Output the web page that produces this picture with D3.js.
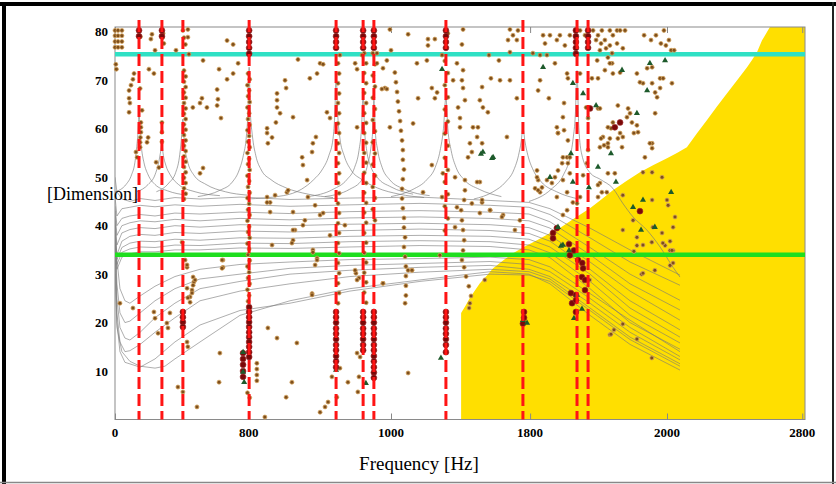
<!DOCTYPE html>
<html><head><meta charset="utf-8">
<script src="https://cdn.jsdelivr.net/npm/d3@7/dist/d3.min.js"></script>
<style>
html,body{margin:0;padding:0;background:#fff;}
svg{display:block;}
</style></head>
<body>
<svg id="chart" width="836" height="484"></svg>
<script>
// ---------- DATA ----------
const xTickValues = [0, 485, 1000, 1504, 2000, 2490];
const xTickLabels = ["0", "800", "1000", "1800", "2000", "2800"];
const yTickValues = [10, 20, 30, 40, 50, 60, 70, 80];
const xAxisTitle = "Frequency [Hz]";
const yAxisTitle = "[Dimension]";
const dashedLineX = [87, 170, 246, 486, 801, 899, 938, 1199, 1478, 1674, 1714];
const cyanLevel = 75.4;
const greenLevel = 34.0;
const yellowRegion = [[1254,0],[1254,22],[1270,23.5],[1286,25.1],[1304,26.6],[1322,28.1],[1346,29.6],[1370,31.2],[1406,32.8],[1442,34.3],[1485,35.7],[1529,37],[1570,38.3],[1612,39.5],[1666,41.6],[1721,43.6],[1762,45.4],[1804,47.3],[1853,49.2],[1902,51],[1951,52.5],[2000,53.9],[2036,55],[2072,56.2],[2108,59],[2145,61.8],[2181,64.6],[2217,67.3],[2254,70],[2290,72.7],[2308,74.2],[2326,75.8],[2344,78.2],[2373,81],[2500,81],[2500,0]];

// dispersion curves (upper bundle)
const curveU1 = [[0,50],[7,47],[25,45.5],[54,45],[91,45.6],[145,45.2],[217,45.8],[308,45.5],[453,45.9],[634,45.4],[851,45.7],[1105,45.9],[1359,45.2],[1500,44.8],[1576,43.5],[1721,39.5],[1866,35],[2047,29.8]];
const curveU2 = [[0,46],[7,42],[25,43.5],[54,43.8],[91,44.2],[145,43.9],[217,44.3],[308,44],[453,44.4],[634,44],[851,44.3],[1105,44.6],[1359,44.2],[1500,43.8],[1576,42.3],[1721,37.5],[1866,32.5],[2047,27.7]];
const curveU3 = [[0,44],[7,40],[25,41.5],[54,42],[91,42.3],[145,42],[217,42.6],[308,42.4],[453,42.8],[634,42.5],[851,42.9],[1105,43.1],[1359,42.8],[1500,42.4],[1576,40.8],[1721,35.5],[1866,30],[2047,24.6]];
const curveU4 = [[0,43],[7,38],[25,40],[54,40.6],[91,41],[145,40.8],[217,41.3],[308,41],[453,41.5],[634,41.2],[851,41.6],[1105,41.8],[1359,41.5],[1500,41],[1576,39.5],[1721,34],[1866,28],[2047,22.6]];
const curveU5 = [[0,41],[7,36],[25,38.5],[54,39.2],[91,39.6],[145,39.4],[217,40],[308,39.7],[453,40.2],[634,40],[851,40.3],[1105,40.5],[1359,40.2],[1500,39.6],[1576,38],[1721,32.5],[1866,26.5],[2047,20.5]];
const curveU6 = [[0,39],[7,34],[25,36.8],[54,37.8],[91,38.2],[145,38],[217,38.6],[308,38.4],[453,38.9],[634,38.7],[851,39],[1105,39.3],[1359,39],[1500,38.4],[1576,36.8],[1721,31],[1866,24.5],[2047,18.5]];
const curveU7 = [[0,37],[7,33],[25,35.5],[54,36.4],[91,36.8],[145,36.7],[217,37.2],[308,37],[453,37.5],[634,37.4],[851,37.8],[1105,38],[1359,37.8],[1500,37.2],[1576,35.6],[1721,30],[1866,23],[2047,17]];
const curveU8 = [[0,36],[7,32],[25,34.5],[54,35.2],[91,35.6],[145,35.5],[217,36],[308,35.9],[453,36.4],[634,36.3],[851,36.7],[1105,36.9],[1359,36.7],[1500,36],[1576,34.4],[1721,28.5],[1866,21.5],[2047,15.8]];
const curveU9 = [[0,35],[7,31],[25,33.5],[54,34.2],[91,34.6],[145,34.6],[217,35],[308,35],[453,35.4],[634,35.3],[851,35.6],[1105,35.9],[1359,35.7],[1500,35],[1576,33.4],[1721,27],[1866,20],[2047,14.5]];
// dispersion curves (lower, dipping at left)
const curveL6 = [[0,42],[7,33],[18,27],[36,24.5],[54,24],[91,25.5],[145,27.5],[217,29.5],[308,31],[453,32],[634,32.5],[851,33],[1105,33.2],[1359,33.5],[1500,33],[1576,31.5],[1721,26],[1866,20.5],[2047,14]];
const curveL5 = [[0,40],[7,28],[18,22],[36,20],[54,20.3],[91,22],[145,24.5],[217,27],[308,29],[453,30],[634,31.2],[851,31.8],[1105,32.2],[1359,32.6],[1500,32],[1576,30.5],[1721,25],[1866,19],[2047,13]];
const curveL4 = [[0,38],[7,25],[18,19],[36,16.8],[54,16.4],[91,18],[145,21],[217,24],[308,27],[453,28.5],[634,30],[851,30.8],[1105,31.4],[1359,31.8],[1500,31],[1576,29.5],[1721,24],[1866,18],[2047,12.3]];
const curveL3 = [[0,36],[7,22],[18,16],[36,14],[54,14.2],[91,15.5],[145,18],[217,21],[308,24.5],[453,26.5],[634,28],[851,29.5],[1105,30.4],[1359,31],[1500,30.5],[1576,29],[1721,23],[1866,17],[2047,11.5]];
const curveL2 = [[0,34],[7,20],[18,14],[36,11.8],[91,10.8],[145,12.5],[217,16],[308,19.5],[453,22.5],[634,24],[851,26.5],[1105,28.5],[1359,30],[1500,29.8],[1576,28.5],[1721,22.5],[1866,16.5],[2047,11]];
const curveL1 = [[0,30],[7,19],[25,14],[54,12],[91,11],[145,10.6],[181,11],[217,12.5],[308,16],[453,21.5],[634,24.5],[851,27],[1105,28.8],[1359,30.5],[1500,30],[1576,28],[1721,21.5],[1866,15.5],[2047,10.2]];

// resonance peaks
const peak1 = [[0,47],[40,48.5],[60,50.5],[72,53],[80,57],[85,61],[87,64.4],[90,60],[96,56],[105,53],[120,50.5],[145,48.5],[190,47.2],[260,46.3]];
const peak2 = [[80,47],[120,48.5],[145,50.5],[158,53],[166,55.5],[170,57],[174,55],[184,52.5],[200,50.5],[230,48.5],[290,47],[380,46.2]];
const peak3 = [[150,47],[195,48.8],[220,51],[233,54],[240,57.5],[246,62],[251,57],[262,53.5],[285,50.5],[330,48.5],[400,47],[480,46.3]];
const peak4 = [[300,46],[380,47.3],[425,49],[450,51.5],[465,54.5],[476,58.5],[482,64],[486,72.7],[490,64],[498,58.5],[510,54.5],[530,51.5],[565,49.5],[620,47.8],[700,46.5],[790,45.8]];
const peak5 = [[475,45.5],[610,46.2],[675,47.5],[720,49.5],[750,51.5],[775,54.5],[790,58],[797,64],[801,71.6],[806,64],[815,58],[830,54.5],[855,51.5],[895,49.5],[950,47.8],[1030,46.5],[1120,45.8]];
const peak6 = [[700,46],[790,47.5],[840,49.5],[868,52],[884,55.5],[893,60],[899,67],[904,60],[912,55.5],[925,52.5],[950,50],[1000,48],[1080,46.5]];
const peak7 = [[760,46],[850,47.5],[895,49.5],[915,52.5],[927,56],[934,60],[938,66],[943,59.5],[952,55.5],[968,52],[995,49.5],[1050,47.5],[1140,46.2]];
const peak8 = [[1000,46],[1080,47.5],[1130,49.5],[1160,52],[1178,55.5],[1190,60],[1199,66.5],[1206,60],[1218,55.5],[1236,52],[1265,49.5],[1320,47.5],[1400,46]];
const peak9 = [[1300,45.5],[1370,47],[1415,49],[1445,51.5],[1462,54.5],[1472,57.5],[1478,60.3],[1485,57.5],[1496,54.5],[1515,51.5],[1545,49],[1600,47],[1680,45.5]];
const peak10 = [[1500,45],[1580,47.5],[1625,50.5],[1648,54],[1660,58],[1668,63],[1674,72],[1680,61],[1690,55],[1720,51],[1760,49.5],[1804,47.7],[1840,44.6],[1877,41.8],[1927,39.1],[1975,35.6],[2022,31.4],[2047,29.4]];

// brown diamond markers
const brownPoints = [
[0,80.3],[11,80.3],[25,80.3],[0,79.2],[11,79.2],[25,79.2],[0,78],[11,78],[25,78],[0,76.8],[11,76.8],[25,76.8],
[3,73.3],[5,72.3],[134,79.5],[130,78.5],[145,76.2],[174,79.7],[177,77.6],[221,76.2],[264,80.5],[264,78.9],[268,75.4],[319,74.1],[406,78.2],[428,77.4],
[92,79],[172,78.8],[250,78.8],[255,77.4],[246,80.3],
[69,71.4],[65,70.2],[58,69],[51,67.9],[51,66.3],[54,65.3],[51,63.4],[91,68.3],[98,63.8],
[94,61.3],[94,60.3],[94,59.3],[92,58.2],[91,57.2],[91,56.2],[76,55.2],[80,54.1],
[123,72.3],[141,71.4],[120,58.2],[116,57.2],[149,53.1],[159,52],[170,61.3],[170,59.3],[170,57.3],
[250,72],[256,70.8],[250,69.7],[256,68.6],[250,67.5],[256,66.4],[250,65.3],[256,64.2],[250,63.1],[256,62],[250,60.9],[256,59.8],[250,58.7],[256,57.6],[250,56.5],[256,55.4],[250,54.3],[256,53.2],[250,52.1],[256,51],[250,49.9],[256,48.8],[250,47.7],[256,46.6],[250,45.5],
[282,64.4],[308,65.3],[315,66.3],[333,64.4],[370,64.8],[373,66.1],[384,62.2],[370,68.1],[377,72.3],[406,70.2],[428,71.4],[446,73.5],[308,50.8],[319,51.9],
[482,71.4],[488,70.2],[480,69],[486,67.9],[482,66.7],[488,65.5],[480,64.4],[486,63.2],[482,62],[488,60.8],[480,59.7],[486,58.5],[482,57.3],[488,56.2],[480,55],[486,53.8],[482,52.7],[488,51.5],[480,50.3],[486,49.2],[482,48],[488,46.8],[480,45.7],[486,44.5],[482,43.3],[488,42.2],[480,41],[486,39.8],[482,38.7],[488,37.5],[480,36.3],[486,35.2],[482,34],[488,32.8],[480,31.6],[486,30.4],[482,29.2],[488,28],[480,26.8],[486,25.6],[482,24.4],
[551,60.1],[551,59.1],[569,58.2],[554,57],[587,67.3],[587,65.9],[587,64.4],[583,61.3],[551,45.9],[562,44.8],
[18,24],[65,23],[141,22.2],[145,20.9],[156,17.8],[188,19.9],[192,18.9],[199,22],[254,32.9],[261,31.4],[283,29.4],[286,28.4],[279,26.7],[272,25.3],[272,24.2],[261,16],[264,15],[228,6.7],[246,5.7],[297,2.6],
[480,5.5],[488,4.5],[514,11.6],[514,10.4],[514,9.2],[514,8],[543,0.5],[380,13.7],[377,7.7],[554,18.9],[587,16.8],[391,32.9],[391,31.4],
[659,15.8],[641,7.7],[620,4.6],[743,1.5],[761,2.6],[772,3.6],[786,8.8],[804,4.6],[815,10.6],[880,5.7],[884,8.8],[844,7.7],[877,13.7],[888,12.9],[1062,9.6],
[1014,71.6],[1018,69.6],[1022,67.6],[1025,65.6],[1029,63.6],[1033,61.6],[1036,59.6],[1040,57.6],[1043,55.6],[1043,53.6],[1047,51.6],[1043,49.6],[1040,47.6],[1040,45.6],[1043,43.6],[1047,41.6],[1047,39.6],[1051,37.6],[1047,35.6],[1051,33.6],[1054,31.6],[1054,29.6],[1054,27.6],[1054,25.6],[1051,24],
[1268,49.4],[1268,47.3],[1265,45.3],[1254,43.2],[1257,41.1],[1261,39.1],[1265,37],[1261,34.9],[1257,32.9],[1265,31.4],[1272,29.5],[1282,27.5],[1290,25.5],[1286,24],[1283,23],
[714,26],[717,35],[732,33.3],[873,30.2],[884,29.2],[971,28.1],[1076,30.8],[1177,33.9],
[903,75.6],[910,73.5],[903,71.5],[910,69.4],[903,67.4],[910,65.3],[903,63.2],[910,61.2],[903,59.1],[910,57.1],[903,55],[910,53],[903,50.9],[910,48.8],[903,46.8],[910,44.7],[903,42.7],[910,40.6],[903,38.5],[910,36.5],[903,34.4],[910,32.4],[903,30.3],[910,28.3],[903,26.2],[910,24.1],
[934,75.6],[942,73.3],[934,71],[942,68.7],[934,66.4],[942,64.1],[934,61.8],[942,59.5],[934,57.2],[942,54.9],[934,52.6],[942,50.3],[934,48],[942,45.7],[934,43.4],[942,41.1],
[1195,74],[1206,71.5],[1195,69],[1206,66.5],[1195,64],[1206,61.5],[1195,59],[1206,56.5],[1195,54],[1206,51.5],[1195,49],[1206,46.5],[1195,44],[1206,41.5],[1195,39],
[808,73.5],[812,71.4],[808,69.4],[812,67.3],[808,65.3],[812,63.2],[808,61.1],[812,59.1],[808,57],[812,55],[808,52.9],[812,50.8],[808,48.8],[812,46.7],[808,44.6],[812,42.6],[808,40.5],[812,38.5],[808,36.4],[812,34.3],[808,32.3],[812,30.2],[808,28.1],[812,26.1],[808,24],
[1793,17.5],[1808,18.5],[1720,28.8],[1797,17.6],[1840,19.7],[1891,16.6],[1945,12.7],[1908,30],[1956,30.8],[1880,34.7],[2011,31.8],[2011,34.9],[2022,34.9],[1945,36.6],[1891,35.9],[1993,35.9],[2011,36.8],
[1420,58.3],[1605,59.1],[1623,54.1],[1638,54.1],[1648,54.1],[1620,52.9],[1641,52.9],[1605,51.4],[1594,50],[1583,48.8],[1623,49.4],[1648,50.8],[1710,52.9],[1714,55.6],[1768,58.3],[1772,56.6],[1786,57],[1837,56.2],[1840,58.3],[1830,59.1],[1880,59.1],[1920,54.1],[1946,57],[1946,56],[1946,51],[1982,50],[1913,51],[1786,50.8],[1757,48.8],[1764,46.9],[1782,46.9],[1811,50.8],[1840,46.3],[1840,39.1],[1877,41.1],[1891,37.6],[1913,36],[1913,30.2],[2000,45.3],[2004,44.2],[2029,41.8],[2022,39.7],[1982,38.5],[1985,36.4],[2018,34.9],[2022,32.3],[1949,39.7],[1946,45.3],[1533,49.4],[1547,47.9],[1540,46.9],[1522,47.7],[1449,39.1],[1467,41.1],[1406,42.2],[1322,49],[1330,44.8],[1359,43.2],[1623,42.2],[1638,43.2],[1659,44.8],[1638,46.9],[1601,45.9],[1685,45.9],[1750,45.9],[1696,50.4],[1674,44.6],[1750,48.4],
[1612,79.3],[1630,77.2],[1648,79.3],[1685,80.3],[1703,79.3],[1732,80.3],[1750,79.3],[1764,80.3],[1775,78.3],[1793,80.3],[1804,79.3],[1819,80.3],[1830,80.3],[1848,80.3],[1779,76.6],[1761,77.6],[1743,78.3],[1793,77.2],[1819,77.6],[1840,76.6],[1757,76.2],[1786,74.7],[1917,79.3],[1960,79.3],[1942,78.3],[1978,77.6],[1996,77.2],[2007,78.3],[1989,80.3],[2015,76.2],[2026,76.2],[1801,75.6],[1801,73.5],[1747,74.1],[1728,70.4],[1750,70.4],[1685,71.4],[1638,71.4],[1641,70.4],[1891,71.4],[1928,72.5],[1946,72.7],[1913,69.4],[1902,69.6],[1946,69.4],[1975,70.4],[1986,70.4],[2018,69.4],[1975,68.4],[1957,67.5],[1964,66.5],[1830,71.6],[1804,71.4],[1793,73.5],[1775,72.1],[1627,65.3],[1623,62.4],[1627,59.7],[1641,57.6],[1750,64.2],[1757,64.2],[1822,64.8],[1859,64.2],[1866,63.2],[1855,62.4],[1873,61.3],[1891,60.7],[1957,63.2],[1804,61.3],[1797,60.1],[1786,60.3],[1761,58],[1793,58],[1822,58],[1895,59.3],[1938,57],[1757,56.2],[1786,56.2],[1714,62.2],[1707,64.4],
[996,80.5],[1062,79.5],[1134,78.5],[1159,78.5],[1134,77.2],[1206,79.7],[1261,80.5],[1257,77.4],[1431,80.5],[1424,78.3],[1442,79.3],[1460,80.3],[1456,78.3],[1551,79.3],[1558,77.6],[1576,79.3],[1601,78.3],
[663,74.3],[815,75.2],[895,75.2],[949,75.6],[985,74.1],[1000,76.2],[1094,73.5],[1130,74.1],[1185,75.2],[1239,73.5],[1261,72.1],[1355,75.2],[1391,74.1],[1431,75.8],[1514,75.6],[1540,75.2],[1565,75.2],[1594,73.5],
[743,73.5],[706,70.4],[732,71.4],[754,73.3],[616,70],[620,68.4],[870,73.5],[877,72.3],[949,73.5],[971,72.5],[978,68.4],[967,68.2],[985,68.2],[1098,66.3],[1159,66.3],[1167,67.5],[1148,68.4],[1225,70],[1257,70],[1261,68.4],[1268,65.9],[1243,64.4],[1250,62.2],[1322,65.9],[1333,64.4],[1351,63.4],[1330,68.6],[1362,70.4],[1395,70],[1431,70],[1456,66.3],[1533,67.9],[1540,70],[1572,66.3],[1601,60.3],[1605,59.1],[1315,60.3],[1312,58.3],[1330,57],[1297,60.3],[1286,57],[1293,55.2],[1279,54.1],
[645,62.4],[598,63.2],[768,63.4],[779,62.2],[877,60.3],[996,60.3],[1080,61.1],[1250,60.3],
[678,54.1],[681,52.5],[714,55.2],[717,57],[728,58.3],[623,46.9],
[1148,52.5],[1188,50.8],[1232,50],[1312,49],[1322,42.6],[1359,43.2],[1402,41.8],[1533,47.3],[1529,50],[1565,49.4],[1529,51.4],
[696,49.4],[699,45.9],[725,44.2],[743,42.2],[754,42.6],[688,41.1],[681,40.1],[652,39.1],[645,37],[717,34.5],[732,32.9],[725,31.9],[714,25.7],[779,38],[833,40.1],[877,28.8],[870,30.8],[971,28.1],[1062,30.8],[1076,30.8],[1116,46.9],[1185,45.9],[1232,39.7],[1239,43.8],[1293,44.6],[1330,45.3],[1340,28.8],
[551,44.8],[562,42.8],[580,46.3],[627,47.3],[645,42.8],[645,39.1],[641,36.4],[569,36],[388,32.9],[388,31.2],[261,31.9],[290,28.8],[283,27.7],[261,27.1],[279,26.1],[264,25.1],[243,36.6]
];

// dark red circles
const redPoints = [
[87,80.3],[87,79.1],[170,80.3],[170,79.1],
[486,80.3],[486,79.1],[486,77.9],[486,76.7],[486,75.5],
[801,80.3],[801,79.1],[801,77.9],[801,76.7],
[899,80.3],[899,79.1],[899,77.9],[899,76.7],
[938,80.3],[938,79.1],[938,77.9],[938,76.7],
[1199,80.3],[1199,79.1],[1199,77.9],[1199,76.7],
[1670,80.3],[1670,79.1],[1670,77.9],[1670,76.7],[1670,75.5],
[1714,80.3],[1714,79.1],[1714,77.9],[1714,76.7],
[246,22.2],[246,21.1],[246,20.1],[246,19.1],
[486,23.2],[486,22.2],[486,21.1],[486,20.1],[486,19.1],[486,18],[486,17],[486,16],[486,15],[486,13.9],[486,12.9],
[464,13.7],[464,12.5],[464,11.3],[464,10],[464,8.8],
[801,22.2],[801,21.1],[801,20],[801,18.8],[801,17.7],[801,16.6],[801,15.4],[801,14.3],[801,13.1],[801,12],[801,10.8],
[899,22.2],[899,21.1],[899,20],[899,18.8],[899,17.7],[899,16.6],[899,15.4],[899,14.3],
[938,22.2],[938,21.1],[938,20],[938,18.8],[938,17.7],[938,16.6],[938,15.4],[938,14.3],[938,13.1],[938,12],[938,10.8],[938,9.7],[938,8.6],
[1199,22.2],[1199,21.1],[1199,20],[1199,18.8],[1199,17.7],[1199,16.6],[1199,15.4],[1199,13.9],
[1482,22.2],[1482,21],[1478,19.8],
[1663,34.9],[1678,32.9],[1693,32.3],[1696,31.2],[1692,29.4],[1652,26.1],[1656,24],[1645,36.2],[1670,25.7],[1670,24.6],[1670,22.2],[1703,28.8],[1703,26.7],
[1601,39.5],[1587,38.5],[1587,37.4],[1902,43],[1648,33.9],[1830,61.3],[1811,60.3],[1721,64.2]
];

// green triangles
const greenPoints = [
[464,13.9],[464,9.8],[468,7.7],[801,10.2],[909,7.5],[1181,12.7],[1478,20.5],[1493,19.9],[1674,25.7],[1663,20.9],[1692,22.8],[1645,34.9],[1616,35.8],
[1326,54.8],[1366,53.9],[1576,50],[1652,54.9],[1659,49],[1717,47.9],[1750,52.1],[1797,54.9],[1815,49],[1877,43.8],[1913,45.3],[1956,39.7],[2015,46.9],[1906,39.1],[1623,36],[1605,39.7],
[1659,69.4],[1696,67.3],[1743,64.8],[1837,72.1],[1938,73.5],[1993,74.1],[1928,67.9],[1891,63.2],
[1185,72.3],[1333,55.2],[1370,54.1],[1551,72.7]
];

const dispersionCurves = [curveU1,curveU2,curveU3,curveU4,curveU5,curveU6,curveU7,curveU8,curveU9,curveL6,curveL5,curveL4,curveL3,curveL2,curveL1];
const resonanceCurves = [peak1,peak2,peak3,peak4,peak5,peak6,peak7,peak8,peak9,peak10];

// ---------- DRAW ----------
const svg = d3.select("#chart");
const L = 115, R = 805, T = 27, B = 419.5;
const x = d3.scaleLinear().domain([0, 2500]).range([L, R]);
const y = d3.scaleLinear().domain([0, 81]).range([B, T]);
const serif = "'Liberation Serif','Times New Roman',serif";

// outer frame
svg.append("rect").attr("x",0).attr("y",0).attr("width",836).attr("height",484).attr("fill","#fff");
svg.append("line").attr("x1",0).attr("x2",836).attr("y1",4).attr("y2",4).attr("stroke","#000").attr("stroke-width",4);
svg.append("line").attr("x1",4).attr("x2",4).attr("y1",2).attr("y2",484).attr("stroke","#000").attr("stroke-width",4);
svg.append("line").attr("x1",833).attr("x2",833).attr("y1",2).attr("y2",484).attr("stroke","#222").attr("stroke-width",2);
svg.append("line").attr("x1",0).attr("x2",836).attr("y1",482.5).attr("y2",482.5).attr("stroke","#888").attr("stroke-width",1.5);

const clip = svg.append("defs").append("clipPath").attr("id","plotclip");
clip.append("rect").attr("x",L).attr("y",T).attr("width",R-L).attr("height",B-T);

const plot = svg.append("g").attr("clip-path","url(#plotclip)");

// yellow region
plot.append("path").datum(yellowRegion)
  .attr("d", d3.line().x(d=>x(d[0])).y(d=>y(d[1])).curve(d3.curveLinearClosed))
  .attr("fill","#ffdf00");

// curves
const line = d3.line().x(d=>x(d[0])).y(d=>y(d[1]));
plot.selectAll(".disp").data(dispersionCurves).enter().append("path")
  .attr("d", line).attr("fill","none").attr("stroke","#777").attr("stroke-opacity",0.75).attr("stroke-width",0.8);
plot.selectAll(".res").data(resonanceCurves).enter().append("path")
  .attr("d", line.curve(d3.curveMonotoneX)).attr("fill","none").attr("stroke","#777").attr("stroke-opacity",0.8).attr("stroke-width",0.8);

// plot border
svg.append("rect").attr("x",L).attr("y",T).attr("width",R-L).attr("height",B-T)
  .attr("fill","none").attr("stroke","#8a8a8a").attr("stroke-width",1);

// inward ticks
const xAxisB = d3.axisBottom(x).tickValues(xTickValues).tickSize(-6).tickFormat("");
const xAxisT = d3.axisTop(x).tickValues(xTickValues).tickSize(-6).tickFormat("");
svg.append("g").attr("transform",`translate(0,${B})`).call(xAxisB)
  .call(g=>{g.select(".domain").remove(); g.selectAll("line").attr("stroke","#888");});
svg.append("g").attr("transform",`translate(0,${T})`).call(xAxisT)
  .call(g=>{g.select(".domain").remove(); g.selectAll("line").attr("stroke","#888");});

// horizontal reference lines
svg.append("line").attr("x1",L).attr("x2",R).attr("y1",y(cyanLevel)).attr("y2",y(cyanLevel))
  .attr("stroke","#2fe0c4").attr("stroke-width",4.5);
svg.append("line").attr("x1",L).attr("x2",R).attr("y1",y(greenLevel)).attr("y2",y(greenLevel))
  .attr("stroke","#1ede1e").attr("stroke-width",4.5);

// markers
const mk = svg.append("g");
mk.selectAll(".b").data(brownPoints).enter().append("circle")
  .attr("cx",d=>x(d[0])).attr("cy",d=>y(d[1])).attr("r",2.0)
  .attr("fill","#7e4f1c").attr("stroke","#d4a35e").attr("stroke-width",0.8);
mk.selectAll(".r").data(redPoints).enter().append("circle")
  .attr("cx",d=>x(d[0])).attr("cy",d=>y(d[1])).attr("r",2.9)
  .attr("fill","#7a0808").attr("stroke","#9c2a2a").attr("stroke-width",0.7);
mk.selectAll(".g").data(greenPoints).enter().append("path")
  .attr("d", d3.symbol().type(d3.symbolTriangle).size(16))
  .attr("transform",d=>`translate(${x(d[0])},${y(d[1])})`)
  .attr("fill","#1d5a2b");

// red dashed verticals
svg.selectAll(".dash").data(dashedLineX).enter().append("line")
  .attr("x1",d=>x(d)).attr("x2",d=>x(d)).attr("y1",20).attr("y2",B)
  .attr("stroke","#ff1414").attr("stroke-width",3).attr("stroke-dasharray","12,5");

// tick labels
svg.selectAll(".xl").data(xTickValues).enter().append("text")
  .attr("x",d=>x(d)).attr("y",437).attr("text-anchor","middle")
  .attr("font-family",serif).attr("font-weight","bold").attr("font-size",13)
  .text((d,i)=>xTickLabels[i]);
svg.selectAll(".yl").data(yTickValues).enter().append("text")
  .attr("x",108).attr("y",d=>y(d)+4.5).attr("text-anchor","end")
  .attr("font-family",serif).attr("font-weight","bold").attr("font-size",13)
  .text(d=>d);

// axis titles
svg.append("text").attr("x",419).attr("y",470).attr("text-anchor","middle")
  .attr("font-family",serif).attr("font-size",19).text(xAxisTitle);
svg.append("text").attr("x",47).attr("y",199.5)
  .attr("font-family",serif).attr("font-size",18).text(yAxisTitle);
</script>
</body></html>
